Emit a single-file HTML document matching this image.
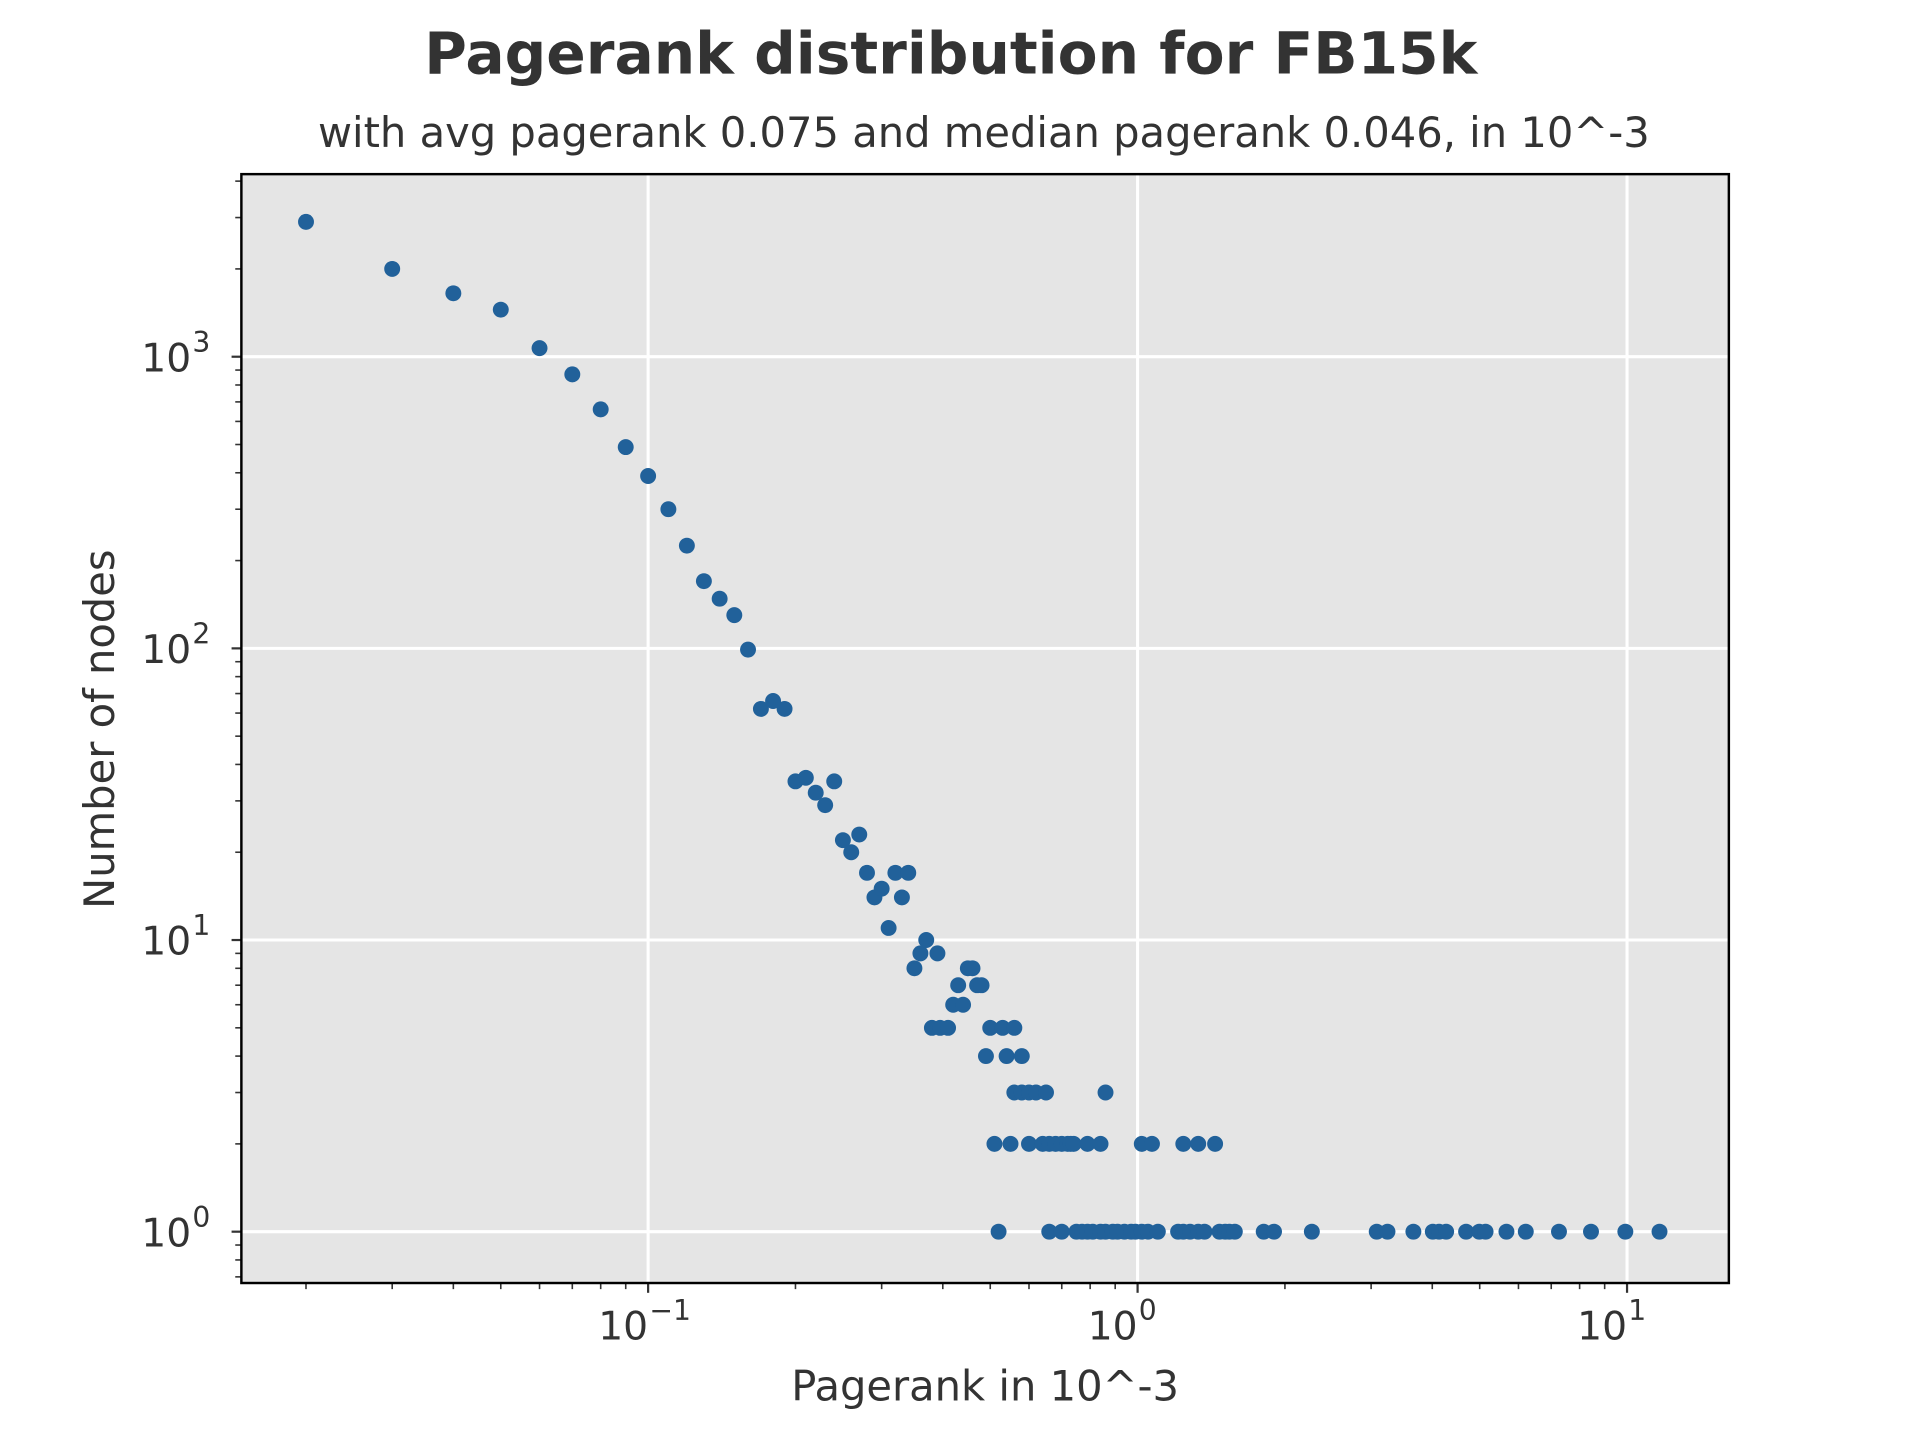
<!DOCTYPE html>
<html><head><meta charset="utf-8"><style>html,body{margin:0;padding:0;background:#fff}svg{display:block}</style></head>
<body>
<svg id="chart" width="1920" height="1440" viewBox="0 0 1567 1175" xmlns="http://www.w3.org/2000/svg" font-family="'DejaVu Sans','Liberation Sans',sans-serif" fill="#333">
<text x="776" y="60" text-anchor="middle" font-size="47.5" font-weight="bold">Pagerank distribution for FB15k</text>
<text x="803" y="120" text-anchor="middle" font-size="34">with avg pagerank 0.075 and median pagerank 0.046, in 10^-3</text>
<rect x="197" y="142" width="1214" height="905" fill="#e5e5e5"/>
<g id="grid"></g><g id="points"></g><g id="ticks"></g>
<rect x="197" y="142" width="1214" height="905" fill="none" stroke="#000" stroke-width="2"/>
<text x="804" y="1143" text-anchor="middle" font-size="34">Pagerank in 10^-3</text>
<text transform="translate(93,595) rotate(-90)" text-anchor="middle" font-size="34">Number of nodes</text>
</svg>
<script>
const xVals=[0.02,0.03,0.04,0.05,0.06,0.07,0.08,0.09,0.10,0.11,0.12,0.13,0.14,0.15,0.16,0.17,0.18,0.19,0.20,0.21,0.22,0.23,0.24,0.25,0.26,0.27,0.28,0.29,0.30,0.31,0.32,0.33,0.34,0.35,0.36,0.37,0.38,0.39,0.395,0.41,0.42,0.43,0.44,0.45,0.46,0.47,0.48,0.49,0.50,0.53,0.56,0.54,0.58,
0.56,0.58,0.60,0.62,0.65,0.86,
0.51,0.55,0.60,0.64,0.66,0.68,0.70,0.72,0.73,0.74,0.79,0.84,1.02,1.07,1.24,1.33,1.44,
0.52,0.66,0.70,0.75,0.77,0.79,0.81,0.84,0.86,0.89,0.91,0.94,0.97,0.99,1.02,1.05,1.10,1.21,1.24,1.28,1.33,1.37,1.47,1.51,1.54,1.58,1.81,1.90,2.27,3.08,3.24,3.66,4.01,4.13,4.27,4.69,4.99,5.14,5.67,6.21,7.26,8.44,9.92,11.65];
const yVals=[2900,2000,1650,1450,1070,870,660,490,390,300,225,170,148,130,99,62,66,62,35,36,32,29,35,22,20,23,17,14,15,11,17,14,17,8,9,10,5,9,5,5,6,7,6,8,8,7,7,4,5,5,5,4,4,
3,3,3,3,3,3,
2,2,2,2,2,2,2,2,2,2,2,2,2,2,2,2,2,
1,1,1,1,1,1,1,1,1,1,1,1,1,1,1,1,1,1,1,1,1,1,1,1,1,1,1,1,1,1,1,1,1,1,1,1,1,1,1,1,1,1,1,1];
const xTickExps=[-1,0,1];
const yTickExps=[0,1,2,3];
const NS="http://www.w3.org/2000/svg";
const L=197,R=1411,T=142,B=1047,xMin=-1.831,xMax=1.208,yMin=-0.176,yMax=3.626;
function sx(v){return L+(Math.log10(v)-xMin)/(xMax-xMin)*(R-L);}
function sy(v){return B-(Math.log10(v)-yMin)/(yMax-yMin)*(B-T);}
function mk(tag,attrs,parent){const e=document.createElementNS(NS,tag);for(const k in attrs)e.setAttribute(k,attrs[k]);parent.appendChild(e);return e;}
const grid=document.getElementById('grid'),ticks=document.getElementById('ticks'),pts=document.getElementById('points');
xTickExps.forEach(e=>{const x=sx(Math.pow(10,e));
 const g=mk('line',{x1:x,x2:x,y1:T,y2:B,stroke:'#fff','stroke-width':2.5},grid);
 
 
 mk('line',{x1:x,x2:x,y1:B,y2:B+8,stroke:'#333','stroke-width':1.8},ticks);
 const t=mk('text',{x:x,y:B+46,'text-anchor':'end','font-size':32},ticks);t.textContent='10';
 
 
 const s=mk('text',{x:x+1,y:B+30,'text-anchor':'start','font-size':23},ticks);s.textContent=(e<0?'\u22121':String(e));
});
for(let e=-2;e<=1;e++)for(let m=2;m<=9;m++){const v=m*Math.pow(10,e);const lv=Math.log10(v);if(lv<xMin||lv>xMax)continue;const x=sx(v);mk('line',{x1:x,x2:x,y1:B,y2:B+5,stroke:'#333','stroke-width':1.3},ticks);}
yTickExps.forEach(e=>{const y=sy(Math.pow(10,e));
 const g=mk('line',{x1:L,x2:R,y1:y,y2:y,stroke:'#fff','stroke-width':2.5},grid);
 
 
 mk('line',{x1:L-8,x2:L,y1:y,y2:y,stroke:'#333','stroke-width':1.8},ticks);
 const t=mk('text',{x:L-41,y:y+12,'text-anchor':'end','font-size':32},ticks);t.textContent='10';
 
 
 const s=mk('text',{x:L-40,y:y-4,'text-anchor':'start','font-size':23},ticks);s.textContent=String(e);
});
for(let e=-1;e<=3;e++)for(let m=2;m<=9;m++){const v=m*Math.pow(10,e);const lv=Math.log10(v);if(lv<yMin||lv>yMax)continue;const y=sy(v);mk('line',{x1:L-5,x2:L,y1:y,y2:y,stroke:'#333','stroke-width':1.3},ticks);}
xVals.forEach((xv,i)=>{const c=mk('circle',{cx:sx(xv),cy:sy(yVals[i]),r:6.5,fill:'#21619a'},pts);
 
 
});
</script>
</body></html>
